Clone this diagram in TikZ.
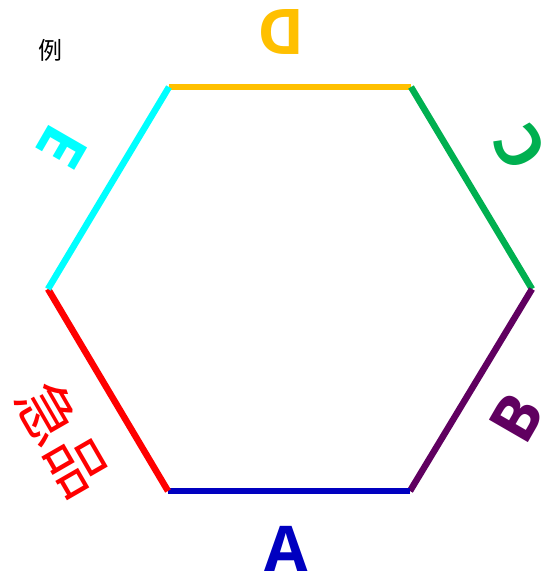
\documentclass[tikz,border=0pt]{standalone}
\usepackage{fontspec}
\setmainfont{Open Sans}
\newfontfamily\cjk{Noto Sans CJK SC}
\definecolor{cA}{RGB}{0,0,192}
\definecolor{cB}{RGB}{96,0,96}
\definecolor{cC}{RGB}{0,176,80}
\definecolor{cD}{RGB}{255,192,0}
\definecolor{cE}{RGB}{0,255,255}
\definecolor{cF}{RGB}{255,0,0}
\begin{document}
\begin{tikzpicture}[x=1pt,y=-1pt,
  side/.style={line width=6.5pt,line cap=butt},
  lab/.style={font=\fontsize{63}{63}\selectfont\bfseries,inner sep=0pt,anchor=center},
  cjklab/.style={font=\fontsize{60}{60}\selectfont\cjk,inner sep=0pt,anchor=center}]
\useasboundingbox (0,0) rectangle (544,579);
\coordinate (p1) at (169,87);
\coordinate (p2) at (411,87);
\coordinate (p3) at (532,289);
\coordinate (p4) at (410,491);
\coordinate (p5) at (168,491);
\coordinate (p6) at (48,289);
\draw[side,cD] (p1) -- (p2);
\draw[side,cC] (p2) -- (p3);
\draw[side,cB] (p3) -- (p4);
\draw[side,cA] (p4) -- (p5);
\draw[side,cF] (p5) -- (p6);
\draw[side,cE] (p6) -- (p1);
\node[lab,text=cA] (la) at (286,549) {A};
\node[lab,text=cB,rotate=60] (lb) at (517,418) {B};
\node[lab,text=cC,rotate=120] (lc) at (520,147) {C};
\node[lab,text=cD,rotate=180] (ld) at (281,32) {D};
\node[lab,text=cE,rotate=240] (le) at (62,147) {E};
\node[cjklab,text=cF,rotate=-60] (lf) at (63,439) {急品};
\node[font=\fontsize{24}{24}\selectfont\cjk,inner sep=0pt] (li) at (50,50) {例};
\end{tikzpicture}
\end{document}
